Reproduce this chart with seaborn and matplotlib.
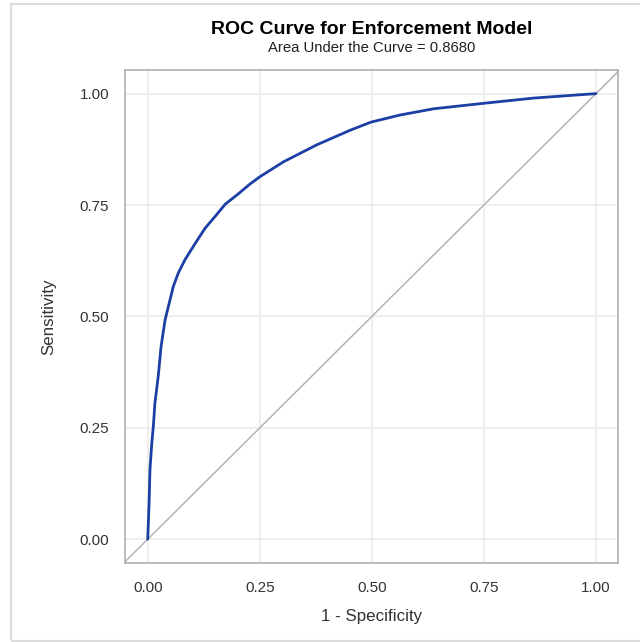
import matplotlib
matplotlib.use("Agg")
import matplotlib.pyplot as plt
from matplotlib.patches import Rectangle
import seaborn as sns
import pandas as pd

# ROC curve values
fpr = [0.0, 0.003, 0.005, 0.009, 0.0125, 0.016, 0.0237, 0.0297, 0.0387, 0.046,
       0.057, 0.068, 0.083, 0.106, 0.128, 0.150, 0.173, 0.202, 0.228, 0.251,
       0.303, 0.377, 0.452, 0.498, 0.563, 0.638, 0.747, 0.861, 1.0]
tpr = [0.0, 0.081, 0.156, 0.215, 0.253, 0.305, 0.368, 0.432, 0.492, 0.522,
       0.567, 0.597, 0.627, 0.664, 0.698, 0.724, 0.752, 0.775, 0.797, 0.814,
       0.847, 0.885, 0.918, 0.936, 0.952, 0.966, 0.978, 0.990, 1.0]
ticks = [0.00, 0.25, 0.50, 0.75, 1.00]
tick_labels = ["0.00", "0.25", "0.50", "0.75", "1.00"]
title = "ROC Curve for Enforcement Model"
subtitle = "Area Under the Curve = 0.8680"
xlabel = "1 - Specificity"
ylabel = "Sensitivity"

sns.set_theme(style="whitegrid")
plt.rcParams["font.family"] = ["Liberation Sans", "DejaVu Sans"]

fig = plt.figure(figsize=(6.4, 6.42), dpi=100)
ax = fig.add_axes([125 / 640, 1 - 563.3 / 642, 493.3 / 640, 493.3 / 642])

df = pd.DataFrame({"fpr": fpr, "tpr": tpr})
ax.axline((0, 0), (1, 1), color="#b4b4b4", lw=1.1, zorder=2)
sns.lineplot(data=df, x="fpr", y="tpr", sort=False, estimator=None,
             color="#1c3fa5", lw=2.0, ax=ax, zorder=3)

ax.set_xlim(-0.0507, 1.0498)
ax.set_ylim(-0.054, 1.053)
ax.set_xticks(ticks)
ax.set_xticklabels(tick_labels)
ax.set_yticks(ticks)
ax.set_yticklabels(tick_labels)

ax.grid(True, color="#e9e9e9", lw=1.1)
for s in ax.spines.values():
    s.set_color("#a6abb0")
    s.set_linewidth(1.1)
ax.tick_params(axis="both", which="major", direction="out", length=6.5,
               width=1.0, color="#a6abb0", labelsize=11, labelcolor="#333333")
ax.tick_params(axis="x", pad=6)
ax.tick_params(axis="y", pad=5)
ax.set_xlabel(xlabel, fontsize=12.2, color="#333333", va="center")
ax.set_ylabel(ylabel, fontsize=12.2, color="#333333", va="center")
ax.xaxis.set_label_coords(0.5, (563.3 - 616) / 493.3)
ax.yaxis.set_label_coords((49 - 125) / 493.3, 0.5)

cx = (125 + 618.3) / 2 / 640
fig.text(cx, 1 - 30 / 642, title, ha="center", va="center",
         fontsize=14, fontweight="bold", color="black")
fig.text(cx, 1 - 48 / 642, subtitle, ha="center", va="center",
         fontsize=10.7, color="#222222")

fig.add_artist(Rectangle((10.5 / 640, 1.2 / 642), 1.2, (642 - 3.5 - 1.2) / 642,
                         transform=fig.transFigure, fill=False,
                         edgecolor="#dcdcdc", lw=1.5))

fig.savefig("out.png", dpi=100)
